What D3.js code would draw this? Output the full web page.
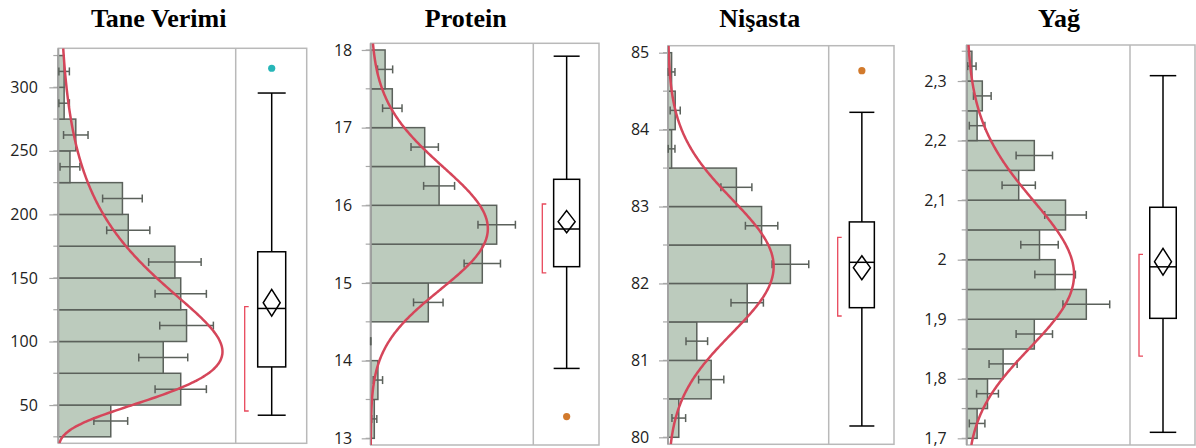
<!DOCTYPE html>
<html>
<head>
<meta charset="utf-8">
<script src="https://cdn.jsdelivr.net/npm/d3@7"></script>
<style>
  body { margin: 0; background: #fff; }
  svg { display: block; }
  .title { font-family: "Liberation Serif", "Times New Roman", serif; font-weight: bold; font-size: 26px; text-anchor: middle; }
  .tick text { font-family: "Open Sans", "Noto Sans", sans-serif; font-size: 16px; fill: #222; }
</style>
</head>
<body>
<svg width="1196" height="448"></svg>
<script>
// ---- data ----
const titles = ["Tane Verimi", "Protein", "Nişasta", "Yağ"];

// Tane Verimi
const taneEdges = [25, 50, 75, 100, 125, 150, 175, 200, 225, 250, 275, 300, 325];
const taneCounts = [9, 21, 18, 22, 21, 20, 12, 11, 2, 3, 1, 1];
const taneErr = [2.9, 4.4, 4.2, 4.6, 4.4, 4.5, 3.7, 3.4, 1.7, 2.1, 0.9, 0.9];
const taneTicks = [50, 100, 150, 200, 250, 300];
const taneTickLabels = ["50", "100", "150", "200", "250", "300"];
const taneBox = [42, 80, 126, 170.6, 295.5];      // min, q1, median, q3, max
const taneMean = [130.5, 10.5];                    // mean, 95% CI half width
const taneShortest = [45.3, 127.4];
const taneOutliers = [315];
const taneFit = [4.755, 0.483];                    // lognormal mu, sigma

// Protein
const protEdges = [13, 13.5, 14, 14.5, 15, 15.5, 16, 16.5, 17, 17.5, 18];
const protCounts = [1, 2, 0, 16, 31, 35, 19, 15, 6, 4];
const protErr = [0.7, 1.3, 0, 4.1, 5.05, 5.2, 4.3, 3.8, 2.7, 2.1];
const protTicks = [13, 14, 15, 16, 17, 18];
const protTickLabels = ["13", "14", "15", "16", "17", "18"];
const protBox = [13.9, 15.21, 15.695, 16.335, 17.92];
const protMean = [15.79, 0.142];
const protShortest = [15.13, 16.017];
const protOutliers = [13.28];
const protFit = [2.7562, 0.0503];

// Nişasta
const nisEdges = [80, 80.5, 81, 81.5, 82, 82.5, 83, 83.5, 84, 84.5, 85];
const nisCounts = [3, 12, 8, 22, 34, 26, 19, 1, 2, 1];
const nisErr = [1.9, 3.5, 3.0, 4.5, 5.1, 4.5, 4.3, 0.93, 1.4, 0.93];
const nisTicks = [80, 81, 82, 83, 84, 85];
const nisTickLabels = ["80", "81", "82", "83", "84", "85"];
const nisBox = [80.147, 81.685, 82.275, 82.8, 84.225];
const nisMean = [82.205, 0.156];
const nisShortest = [81.577, 82.6];
const nisOutliers = [84.766];
const nisFit = [4.40951, 0.01058];

// Yağ
const yagEdges = [1.7, 1.75, 1.8, 1.85, 1.9, 1.95, 2.0, 2.05, 2.1, 2.15, 2.2, 2.25, 2.3, 2.35];
const yagCounts = [2, 4, 7, 13, 23, 17, 14, 19, 10, 13, 2, 3, 1];
const yagErr = [1.5, 2.1, 2.7, 3.5, 4.5, 3.9, 3.6, 4.0, 3.2, 3.5, 1.5, 1.7, 0.8];
const yagTicks = [1.7, 1.8, 1.9, 2.0, 2.1, 2.2, 2.3];
const yagTickLabels = ["1,7", "1,8", "1,9", "2", "2,1", "2,2", "2,3"];
const yagBox = [1.7101, 1.9015, 1.988, 2.088, 2.309];
const yagMean = [1.9966, 0.0224];
const yagShortest = [1.8382, 2.009];
const yagOutliers = [];
const yagFit = [0.68447, 0.0625];

// ---- layout ----
const panels = [
  { title: titles[0], edges: taneEdges, counts: taneCounts, err: taneErr, ticks: taneTicks, labels: taneTickLabels,
    box: taneBox, mean: taneMean, shortest: taneShortest, outliers: taneOutliers, fit: taneFit,
    left: 58.3, split: 235.7, right: 306.7, top: 48.3, bottom: 443.3, yDomain: [19.9, 330.7], xMax: 30.43,
    titleX: 158.7, boxW: 28, pad: 11.5, outColor: "#27b6b8" },
  { title: titles[1], edges: protEdges, counts: protCounts, err: protErr, ticks: protTicks, labels: protTickLabels,
    box: protBox, mean: protMean, shortest: protShortest, outliers: protOutliers, fit: protFit,
    left: 370.7, split: 533.3, right: 599, top: 43.3, bottom: 445, yDomain: [12.914, 18.086], xMax: 45.17,
    titleX: 465.7, boxW: 26, pad: 9.5, outColor: "#d27a2c" },
  { title: titles[2], edges: nisEdges, counts: nisCounts, err: nisErr, ticks: nisTicks, labels: nisTickLabels,
    box: nisBox, mean: nisMean, shortest: nisShortest, outliers: nisOutliers, fit: nisFit,
    left: 668, split: 828.7, right: 894, top: 45.7, bottom: 444.3, yDomain: [79.909, 85.091], xMax: 44.64,
    titleX: 759.7, boxW: 25, pad: 9.8, outColor: "#d27a2c" },
  { title: titles[3], edges: yagEdges, counts: yagCounts, err: yagErr, ticks: yagTicks, labels: yagTickLabels,
    box: yagBox, mean: yagMean, shortest: yagShortest, outliers: yagOutliers, fit: yagFit,
    left: 966.7, split: 1130, right: 1195, top: 45, bottom: 445, yDomain: [1.6888, 2.3605], xMax: 31.4,
    titleX: 1059, boxW: 26.5, pad: 11, outColor: "#d27a2c" }
];

const svg = d3.select("svg");
svg.append("rect").attr("width", 1196).attr("height", 448).attr("fill", "#fff");

panels.forEach((p, i) => drawPanel(p, i));

/////////////HELPERS//////////////////

function lognormalPdf(x, mu, sigma) {
  if (x <= 0) return 0;
  const z = (Math.log(x) - mu) / sigma;
  return Math.exp(-0.5 * z * z) / (x * sigma * Math.sqrt(2 * Math.PI));
}

function drawPanel(p, i) {
  const g = svg.append("g");
  const y = d3.scaleLinear().domain(p.yDomain).range([p.bottom, p.top]);
  const x = d3.scaleLinear().domain([0, p.xMax]).range([p.left, p.split]);

  // title
  g.append("text").attr("class", "title")
    .attr("x", p.titleX).attr("y", 27)
    .text(p.title);

  // frame
  g.append("rect")
    .attr("x", p.left).attr("y", p.top)
    .attr("width", p.right - p.left).attr("height", p.bottom - p.top)
    .attr("fill", "none").attr("stroke", "#b9b9b9").attr("stroke-width", 1.5);
  g.append("line")
    .attr("x1", p.split).attr("x2", p.split).attr("y1", p.top).attr("y2", p.bottom)
    .attr("stroke", "#b9b9b9").attr("stroke-width", 1.5);

  // minor ticks at bin edges
  g.append("g").selectAll("line")
    .data(p.edges.filter(e => y(e) >= p.top && y(e) <= p.bottom))
    .enter().append("line")
    .attr("x1", p.left - 5).attr("x2", p.left)
    .attr("y1", d => y(d)).attr("y2", d => y(d))
    .attr("stroke", "#a8a8a8").attr("stroke-width", 1.2);

  // major axis
  const axis = d3.axisLeft(y)
    .tickValues(p.ticks)
    .tickFormat((d, k) => p.labels[k])
    .tickSize(9).tickSizeOuter(0).tickPadding(p.pad);
  const ax = g.append("g").attr("transform", `translate(${p.left},0)`).call(axis);
  ax.select(".domain").remove();
  ax.selectAll(".tick line").attr("stroke", "#a8a8a8").attr("stroke-width", 1.2);

  // clip for histogram area
  const clipId = "clip" + i;
  svg.append("clipPath").attr("id", clipId).append("rect")
    .attr("x", p.left).attr("y", p.top)
    .attr("width", p.split - p.left).attr("height", p.bottom - p.top);

  const bins = p.counts.map((c, k) => ({ lo: p.edges[k], hi: p.edges[k + 1], c: c, e: p.err[k] }));

  // bars
  g.append("g").selectAll("rect")
    .data(bins.filter(b => b.c > 0))
    .enter().append("rect")
    .attr("x", p.left)
    .attr("y", d => y(d.hi))
    .attr("width", d => x(d.c) - p.left)
    .attr("height", d => y(d.lo) - y(d.hi))
    .attr("fill", "#bccbbd")
    .attr("stroke", "#5b615b")
    .attr("stroke-width", 1.5);

  // left axis line
  g.append("line")
    .attr("x1", p.left).attr("x2", p.left).attr("y1", p.top).attr("y2", p.bottom)
    .attr("stroke", "#a3a3a3").attr("stroke-width", 2);

  // error bars
  const eb = g.append("g").attr("stroke", "#5b615b").attr("stroke-width", 1.5);
  bins.forEach(b => {
    const ym = y((b.lo + b.hi) / 2);
    const x0 = x(b.c - b.e), x1 = x(b.c + b.e);
    eb.append("line").attr("x1", x0).attr("x2", x1).attr("y1", ym).attr("y2", ym);
    eb.append("line").attr("x1", x0).attr("x2", x0).attr("y1", ym - 4).attr("y2", ym + 4);
    eb.append("line").attr("x1", x1).attr("x2", x1).attr("y1", ym - 4).attr("y2", ym + 4);
  });

  // fitted density curve, scaled to counts
  const n = d3.sum(p.counts);
  const bw = p.edges[1] - p.edges[0];
  const samples = d3.range(0, 301).map(k => p.yDomain[0] + (p.yDomain[1] - p.yDomain[0]) * k / 300);
  const line = d3.line()
    .x(v => x(n * bw * lognormalPdf(v, p.fit[0], p.fit[1])))
    .y(v => y(v))
    .curve(d3.curveBasis);
  g.append("path")
    .datum(samples)
    .attr("clip-path", `url(#${clipId})`)
    .attr("d", line)
    .attr("fill", "none")
    .attr("stroke", "#d5465a")
    .attr("stroke-width", 2.5);

  // box plot
  const cx = (p.split + p.right) / 2 + 0.5;
  const hw = p.boxW / 2;
  const [mn, q1, med, q3, mx] = p.box;
  const bp = g.append("g").attr("stroke", "#000").attr("stroke-width", 1.5).attr("fill", "none");
  bp.append("line").attr("x1", cx).attr("x2", cx).attr("y1", y(mx)).attr("y2", y(q3));
  bp.append("line").attr("x1", cx).attr("x2", cx).attr("y1", y(q1)).attr("y2", y(mn));
  bp.append("line").attr("x1", cx - hw).attr("x2", cx + hw).attr("y1", y(mx)).attr("y2", y(mx));
  bp.append("line").attr("x1", cx - hw).attr("x2", cx + hw).attr("y1", y(mn)).attr("y2", y(mn));
  bp.append("rect").attr("x", cx - hw).attr("y", y(q3)).attr("width", p.boxW).attr("height", y(q1) - y(q3));
  bp.append("line").attr("x1", cx - hw).attr("x2", cx + hw).attr("y1", y(med)).attr("y2", y(med));

  const [m, ci] = p.mean;
  bp.append("path")
    .attr("d", `M${cx},${y(m + ci)}L${cx + 8.5},${y(m)}L${cx},${y(m - ci)}L${cx - 8.5},${y(m)}Z`);

  // shortest half bracket
  const bx = p.split + 9;
  g.append("path")
    .attr("d", `M${bx + 4},${y(p.shortest[1])}H${bx}V${y(p.shortest[0])}H${bx + 4}`)
    .attr("fill", "none").attr("stroke", "#e8485b").attr("stroke-width", 1.3);

  // outliers
  g.append("g").selectAll("circle")
    .data(p.outliers)
    .enter().append("circle")
    .attr("cx", cx).attr("cy", d => y(d)).attr("r", 3.6)
    .attr("fill", p.outColor);
}
</script>
</body>
</html>
